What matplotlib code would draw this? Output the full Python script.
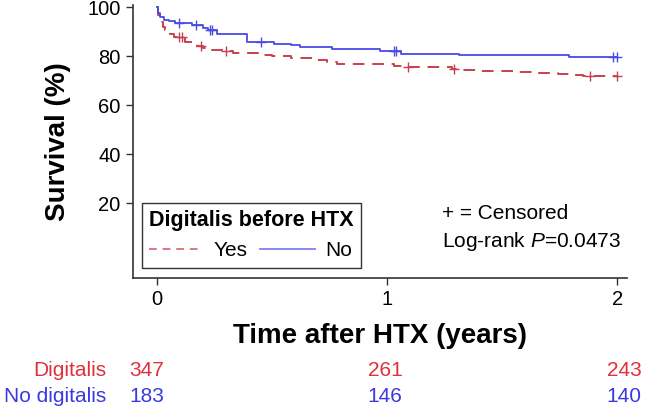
import numpy as np
import matplotlib
matplotlib.use("Agg")
import matplotlib.pyplot as plt
from matplotlib.lines import Line2D
from matplotlib.transforms import blended_transform_factory

plt.rcParams["font.family"] = ["Liberation Sans", "DejaVu Sans"]
plt.rcParams["mathtext.fontset"] = "custom"
plt.rcParams["mathtext.rm"] = "Liberation Sans"
plt.rcParams["mathtext.it"] = "Liberation Sans:italic"

# Kaplan-Meier 步进数据 (时间/年, 生存率 %)
yes_time = [0, 0.005, 0.012, 0.025, 0.035, 0.055, 0.075, 0.12, 0.15, 0.175, 0.2, 0.228,
            0.3, 0.33, 0.45, 0.5, 0.58, 0.68, 0.74, 0.78, 1.03, 1.08, 1.28, 1.33, 1.4,
            1.55, 1.65, 1.74, 1.79, 1.85, 2.0]
yes_surv = [100, 97, 94, 92, 90.7, 89.3, 87.9, 85.9, 85, 84.1, 83.2, 82.5,
            82.2, 81.5, 80.7, 80.0, 79.3, 78.4, 77.7, 77.0, 75.9, 75.6, 75.0, 74.3, 74.0,
            73.6, 73.2, 72.9, 72.2, 71.8, 71.8]
yes_censor = [0.095, 0.11, 0.19, 0.3, 1.09, 1.29, 1.88, 2.0]

no_time = [0, 0.005, 0.015, 0.03, 0.05, 0.08, 0.15, 0.2, 0.22, 0.26, 0.39, 0.51,
           0.58, 0.62, 0.76, 0.97, 1.06, 1.31, 1.79, 2.0]
no_surv = [100, 97.5, 96, 95, 94.5, 93.7, 92.7, 91.7, 90.7, 89.3, 85.9, 85.2,
           84.5, 83.8, 82.8, 82.1, 81.1, 80.4, 79.8, 79.8]
no_censor = [0.095, 0.17, 0.23, 0.24, 0.45, 1.03, 1.04, 1.98, 2.0]

# 风险人数表
risk_times = [0, 1, 2]
risk_digitalis = [347, 261, 243]
risk_no_digitalis = [183, 146, 140]

red = "#c8404e"
blue = "#4a4ae6"
red_txt = "#e0303a"
blue_txt = "#3a3ae0"


def surv_at(times, surv, t):
    idx = np.searchsorted(times, t, side="right") - 1
    return np.array(surv)[idx]


fig = plt.figure(figsize=(6.46, 4.08), dpi=100)
ax = fig.add_axes([0.206, 0.319, 0.765, 0.669])

ax.step(yes_time, yes_surv, where="post", color=red, lw=1.4, ls=(0, (6, 4)))
ax.step(no_time, no_surv, where="post", color=blue, lw=1.3)
ax.plot(yes_censor, surv_at(yes_time, yes_surv, yes_censor), ls="none", marker="+",
        ms=7, mew=1.0, color=red)
ax.plot(no_censor, surv_at(no_time, no_surv, no_censor), ls="none", marker="+",
        ms=7, mew=1.0, color=blue)

ax.set_xlim(-0.104, 2.043)
ax.set_ylim(-10.5, 101)
ax.set_xticks([0, 1, 2])
ax.set_yticks([20, 40, 60, 80, 100])
ax.tick_params(labelsize=14.5, length=5, width=1, color="#333333", pad=4)
for s in ["top", "right"]:
    ax.spines[s].set_visible(False)
for s in ["left", "bottom"]:
    ax.spines[s].set_linewidth(1.2)
    ax.spines[s].set_color("#333333")

ax.set_xlabel("Time after HTX (years)", fontsize=20, fontweight="bold", labelpad=10)
ax.set_ylabel("Survival (%)", fontsize=20, fontweight="bold", labelpad=12)

# 图例
handles = [Line2D([], [], color=red, lw=1.4, ls=(0, (4, 3)), alpha=0.7),
           Line2D([], [], color=blue, lw=1.3, alpha=0.7)]
leg = ax.legend(handles, ["Yes", "No"], ncol=2, title="Digitalis before HTX",
                loc="lower left", bbox_to_anchor=(0.018, 0.037), borderaxespad=0,
                fontsize=15, title_fontproperties={"weight": "bold", "size": 15.5},
                fancybox=False, edgecolor="#333333", framealpha=1,
                handlelength=2.6, handletextpad=0.5, columnspacing=0.6,
                borderpad=0.35, alignment="left")
leg.get_frame().set_linewidth(1.0)

ax.text(0.626, 0.234, "+ = Censored", transform=ax.transAxes, fontsize=15, va="center")
ax.text(0.626, 0.132, "Log-rank $P$=0.0473", transform=ax.transAxes, fontsize=15,
        va="center")

# 风险表
trans = blended_transform_factory(ax.transData, fig.transFigure)
offsets = [-0.045, -0.01, 0.03]
fig.text(0.164, 0.093, "Digitalis", color=red_txt, fontsize=15, ha="right", va="center")
fig.text(0.164, 0.028, "No digitalis", color=blue_txt, fontsize=15, ha="right", va="center")
for t, off, a, b in zip(risk_times, offsets, risk_digitalis, risk_no_digitalis):
    ax.text(t + off, 0.093, str(a), transform=trans, color=red_txt, fontsize=15,
            ha="center", va="center", clip_on=False)
    ax.text(t + off, 0.028, str(b), transform=trans, color=blue_txt, fontsize=15,
            ha="center", va="center", clip_on=False)

fig.savefig("out.png", dpi=100)
